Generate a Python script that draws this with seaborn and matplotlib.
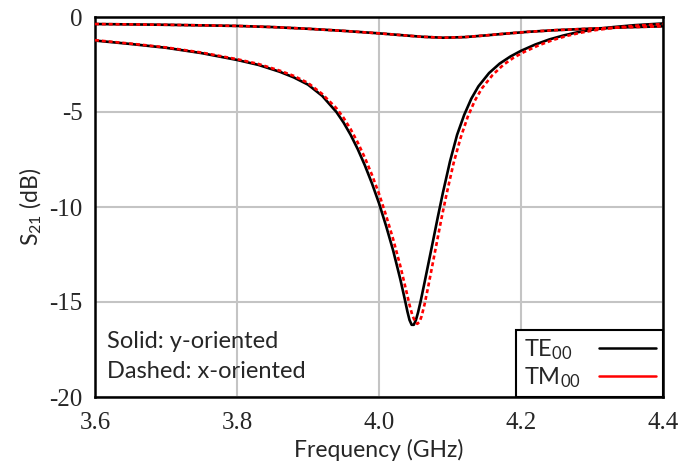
import matplotlib
matplotlib.use("Agg")
import matplotlib.pyplot as plt
import seaborn as sns
from matplotlib.lines import Line2D

# ---- data ----
te_deep_f = [3.60, 3.65, 3.70, 3.75, 3.80, 3.83, 3.86, 3.88, 3.90, 3.92, 3.94, 3.95, 3.96, 3.97, 3.98,
             3.99, 4.00, 4.01, 4.02, 4.03, 4.036, 4.040, 4.043, 4.046, 4.049, 4.052, 4.055, 4.059, 4.064,
             4.07, 4.076, 4.083, 4.09, 4.10, 4.11, 4.12, 4.13, 4.14, 4.155, 4.17, 4.185, 4.20, 4.22,
             4.24, 4.26, 4.28, 4.30, 4.33, 4.36, 4.40]
te_deep_db = [-1.24, -1.42, -1.62, -1.90, -2.26, -2.52, -2.88, -3.18, -3.56, -4.15, -5.0, -5.55, -6.2, -6.95, -7.8,
              -8.75, -9.8, -11.0, -12.3, -13.8, -14.8, -15.5, -15.95, -16.2, -16.2, -15.95, -15.55, -14.9, -14.0,
              -12.9, -11.8, -10.5, -9.25, -7.6, -6.2, -5.15, -4.3, -3.65, -2.95, -2.45, -2.08, -1.78, -1.45,
              -1.18, -0.97, -0.80, -0.67, -0.53, -0.43, -0.34]

tm_deep_f = [3.60, 3.65, 3.70, 3.75, 3.80, 3.83, 3.86, 3.88, 3.90, 3.92, 3.94, 3.95, 3.96, 3.97, 3.98,
             3.99, 4.00, 4.01, 4.02, 4.03, 4.038, 4.043, 4.047, 4.051, 4.054, 4.057, 4.060, 4.064, 4.069,
             4.075, 4.081, 4.088, 4.095, 4.105, 4.115, 4.125, 4.135, 4.145, 4.16, 4.175, 4.19, 4.205, 4.225,
             4.245, 4.265, 4.285, 4.305, 4.335, 4.365, 4.40]
tm_deep_db = [-1.22, -1.40, -1.60, -1.87, -2.22, -2.47, -2.82, -3.10, -3.47, -4.05, -4.8, -5.3, -5.9, -6.6, -7.4,
              -8.3, -9.3, -10.45, -11.7, -13.1, -14.35, -15.15, -15.7, -16.05, -16.15, -16.05, -15.75, -15.15, -14.25,
              -13.1, -11.95, -10.6, -9.35, -7.7, -6.35, -5.25, -4.4, -3.75, -3.05, -2.52, -2.13, -1.83, -1.49,
              -1.21, -0.99, -0.82, -0.69, -0.55, -0.45, -0.37]

te_sh_f = [3.60, 3.65, 3.70, 3.75, 3.80, 3.85, 3.90, 3.95, 4.00, 4.03, 4.06, 4.09, 4.12, 4.15, 4.18, 4.21,
           4.25, 4.30, 4.35, 4.40]
te_sh_db = [-0.37, -0.39, -0.41, -0.44, -0.47, -0.53, -0.62, -0.73, -0.86, -0.95, -1.04, -1.09, -1.06, -0.97,
            -0.87, -0.78, -0.69, -0.61, -0.54, -0.49]
tm_sh_f = [3.60, 3.65, 3.70, 3.75, 3.80, 3.85, 3.90, 3.95, 4.00, 4.03, 4.06, 4.09, 4.12, 4.15, 4.18, 4.21,
           4.25, 4.30, 4.35, 4.40]
tm_sh_db = [-0.37, -0.39, -0.41, -0.44, -0.47, -0.53, -0.62, -0.73, -0.86, -0.95, -1.04, -1.09, -1.06, -0.97,
            -0.87, -0.78, -0.69, -0.61, -0.54, -0.49]

x_ticks = [3.6, 3.8, 4.0, 4.2, 4.4]
x_labels = ["3.6", "3.8", "4.0", "4.2", "4.4"]
x_minor = [3.7, 3.9, 4.1, 4.3]
y_ticks = [0, -5, -10, -15, -20]
y_labels = ["0", "-5", "-10", "-15", "-20"]
y_minor = [-2.5, -7.5, -12.5, -17.5]
legend_labels = [r"TE$_{00}$", r"TM$_{00}$"]

# ---- style ----
sns.set_style("white")
plt.rcParams["font.family"] = ["Lato", "DejaVu Sans"]
plt.rcParams["mathtext.fontset"] = "custom"
plt.rcParams["mathtext.rm"] = "Lato"
plt.rcParams["mathtext.it"] = "Lato"
plt.rcParams["axes.unicode_minus"] = False

fig = plt.figure(figsize=(6.8, 4.72), dpi=100)
ax = fig.add_axes([95 / 680, 1 - 397 / 472, 568 / 680, 380 / 472])

black = "#000000"
red = "#ff0000"
lw = 1.9

for f, d in [(te_deep_f, te_deep_db), (te_sh_f, te_sh_db)]:
    sns.lineplot(x=f, y=d, ax=ax, color=black, lw=lw, sort=False, zorder=3)
for f, d in [(tm_deep_f, tm_deep_db), (tm_sh_f, tm_sh_db)]:
    sns.lineplot(x=f, y=d, ax=ax, color=red, lw=lw, sort=False, zorder=4,
                 linestyle=(0, (1.5, 1.1)))

ax.set_xlim(3.6, 4.4)
ax.set_ylim(-20, 0)
ax.set_xticks(x_ticks)
ax.set_xticklabels(x_labels, family="Liberation Serif", fontsize=18)
ax.set_yticks(y_ticks)
ax.set_yticklabels(y_labels, family="Liberation Serif", fontsize=18)
ax.set_xticks(x_minor, minor=True)
ax.set_yticks(y_minor, minor=True)
ax.tick_params(which="major", direction="in", length=10, width=1.5, color="black",
               top=False, right=False)
ax.tick_params(axis="x", which="major", pad=11)
ax.tick_params(axis="y", which="major", pad=9)
ax.tick_params(which="minor", direction="in", length=5, width=1.5, color="black",
               top=False, right=False)
ax.grid(True, which="major", color="#c4c4c4", lw=1.5)
ax.set_axisbelow(True)
for s in ax.spines.values():
    s.set_color("black")
    s.set_linewidth(1.8)

ax.set_xlabel("Frequency (GHz)", fontsize=16.5, labelpad=3)
ax.set_ylabel(r"S$_{21}$ (dB)", fontsize=16.5, labelpad=4)

ax.text(0.022, 0.147, "Solid: y-oriented", transform=ax.transAxes, fontsize=17,
        va="center", ha="left")
ax.text(0.022, 0.066, "Dashed: x-oriented", transform=ax.transAxes, fontsize=17,
        va="center", ha="left")

handles = [Line2D([0], [0], color=black, lw=1.8), Line2D([0], [0], color=red, lw=1.8)]
leg = ax.legend(handles, legend_labels, loc="lower right", bbox_to_anchor=(1, 0),
                borderaxespad=0, frameon=True, fancybox=False, fontsize=17,
                markerfirst=False, handlelength=2.4, handletextpad=0.8,
                labelspacing=0.15, borderpad=0.3)
leg.get_frame().set_edgecolor("black")
leg.get_frame().set_linewidth(1.5)
leg.get_frame().set_alpha(1)

# left-align legend labels while keeping the line samples aligned
for col in leg._legend_handle_box.get_children():
    col.align = "left"
fig.canvas.draw()
widths = [t.get_window_extent().width for t in leg.get_texts()]
maxw = max(widths)
rows = [r for col in leg._legend_handle_box.get_children() for r in col.get_children()]
for r, w in zip(rows, widths):
    r.sep = r.sep + (maxw - w) * 72 / fig.dpi

fig.savefig("out.png", dpi=100)
